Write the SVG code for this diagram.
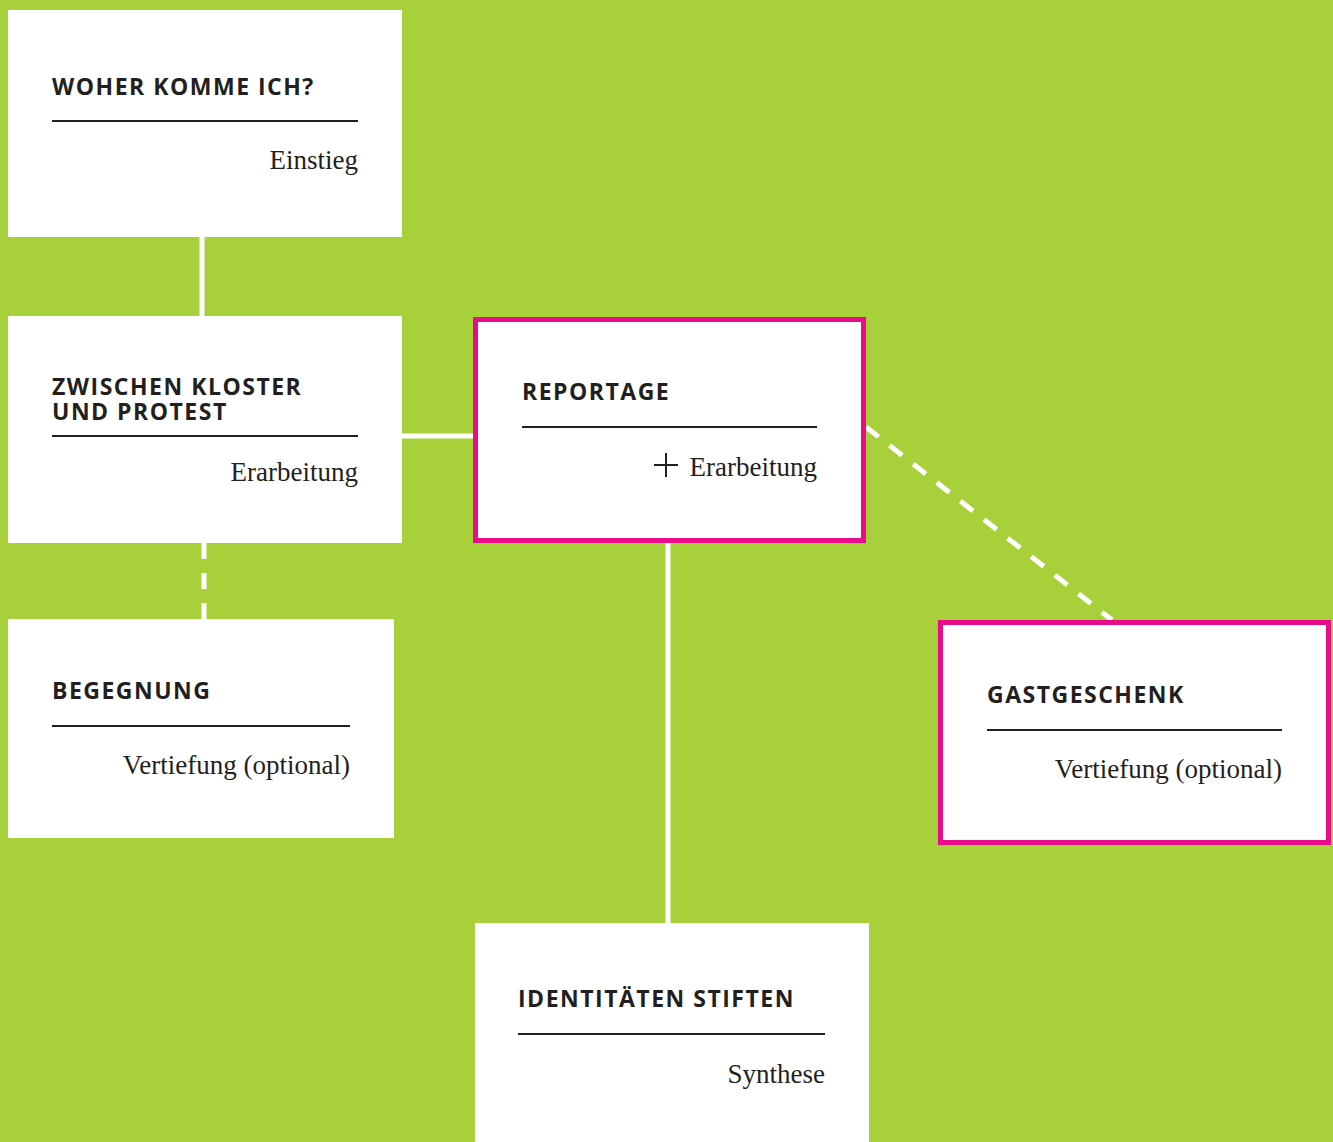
<svg xmlns="http://www.w3.org/2000/svg" width="1333" height="1142" viewBox="0 0 1333 1142">
<style>
.bg{fill:#a8d03a}
.box{fill:#ffffff}
.pink{fill:#ffffff;stroke:#ea0a8c;stroke-width:5}
.t{font-family:"Open Sans","Liberation Sans",sans-serif;font-weight:700;font-size:23px;fill:#231f20;letter-spacing:1.5px}
.s{font-family:"Liberation Serif","DejaVu Serif",serif;font-size:27px;fill:#231f20;text-anchor:end}
.rule{stroke:#231f20;stroke-width:2}
.c{stroke:#ffffff;stroke-width:5;fill:none}
.d{stroke:#ffffff;stroke-width:5;fill:none;stroke-dasharray:16 14}
</style>
<rect class="bg" x="0" y="0" width="1333" height="1142"/>
<g id="connectors">
<line class="c" x1="202" y1="237" x2="202" y2="316"/>
<line class="c" x1="402" y1="436" x2="474" y2="436"/>
<line class="d" x1="204" y1="543" x2="204" y2="619"/>
<line class="c" x1="668" y1="543" x2="668" y2="923"/>
<line class="d" x1="866" y1="427" x2="1112" y2="620"/>
</g>
<g id="woher">
<rect class="box" x="8" y="10" width="394" height="227"/>
<text class="t" x="52" y="95">WOHER KOMME ICH?</text>
<line class="rule" x1="52" y1="121" x2="358" y2="121"/>
<text class="s" x="358" y="169">Einstieg</text>
</g>
<g id="zwischen">
<rect class="box" x="8" y="316" width="394" height="227"/>
<text class="t" x="52" y="395">ZWISCHEN KLOSTER<tspan x="52" dy="25">UND PROTEST</tspan></text>
<line class="rule" x1="52" y1="436" x2="358" y2="436"/>
<text class="s" x="358" y="481">Erarbeitung</text>
</g>
<g id="reportage">
<rect class="pink" x="475.5" y="319.5" width="388" height="221"/>
<text class="t" x="522" y="400">REPORTAGE</text>
<line class="rule" x1="522" y1="427" x2="817" y2="427"/>
<text class="s" x="817" y="476">Erarbeitung</text>
<line class="rule" x1="654" y1="465" x2="678" y2="465"/>
<line class="rule" x1="666" y1="453" x2="666" y2="477"/>
</g>
<g id="begegnung">
<rect class="box" x="8" y="619" width="386" height="219"/>
<text class="t" x="52" y="699">BEGEGNUNG</text>
<line class="rule" x1="52" y1="726" x2="350" y2="726"/>
<text class="s" x="350" y="774">Vertiefung (optional)</text>
</g>
<g id="gastgeschenk">
<rect class="pink" x="940.5" y="622.5" width="388" height="220"/>
<text class="t" x="987" y="703">GASTGESCHENK</text>
<line class="rule" x1="987" y1="730" x2="1282" y2="730"/>
<text class="s" x="1282" y="778">Vertiefung (optional)</text>
</g>
<g id="identitaeten">
<rect class="box" x="475" y="923" width="394" height="219"/>
<text class="t" x="518" y="1007">IDENTITÄTEN STIFTEN</text>
<line class="rule" x1="518" y1="1034" x2="825" y2="1034"/>
<text class="s" x="825" y="1083">Synthese</text>
</g>
</svg>
